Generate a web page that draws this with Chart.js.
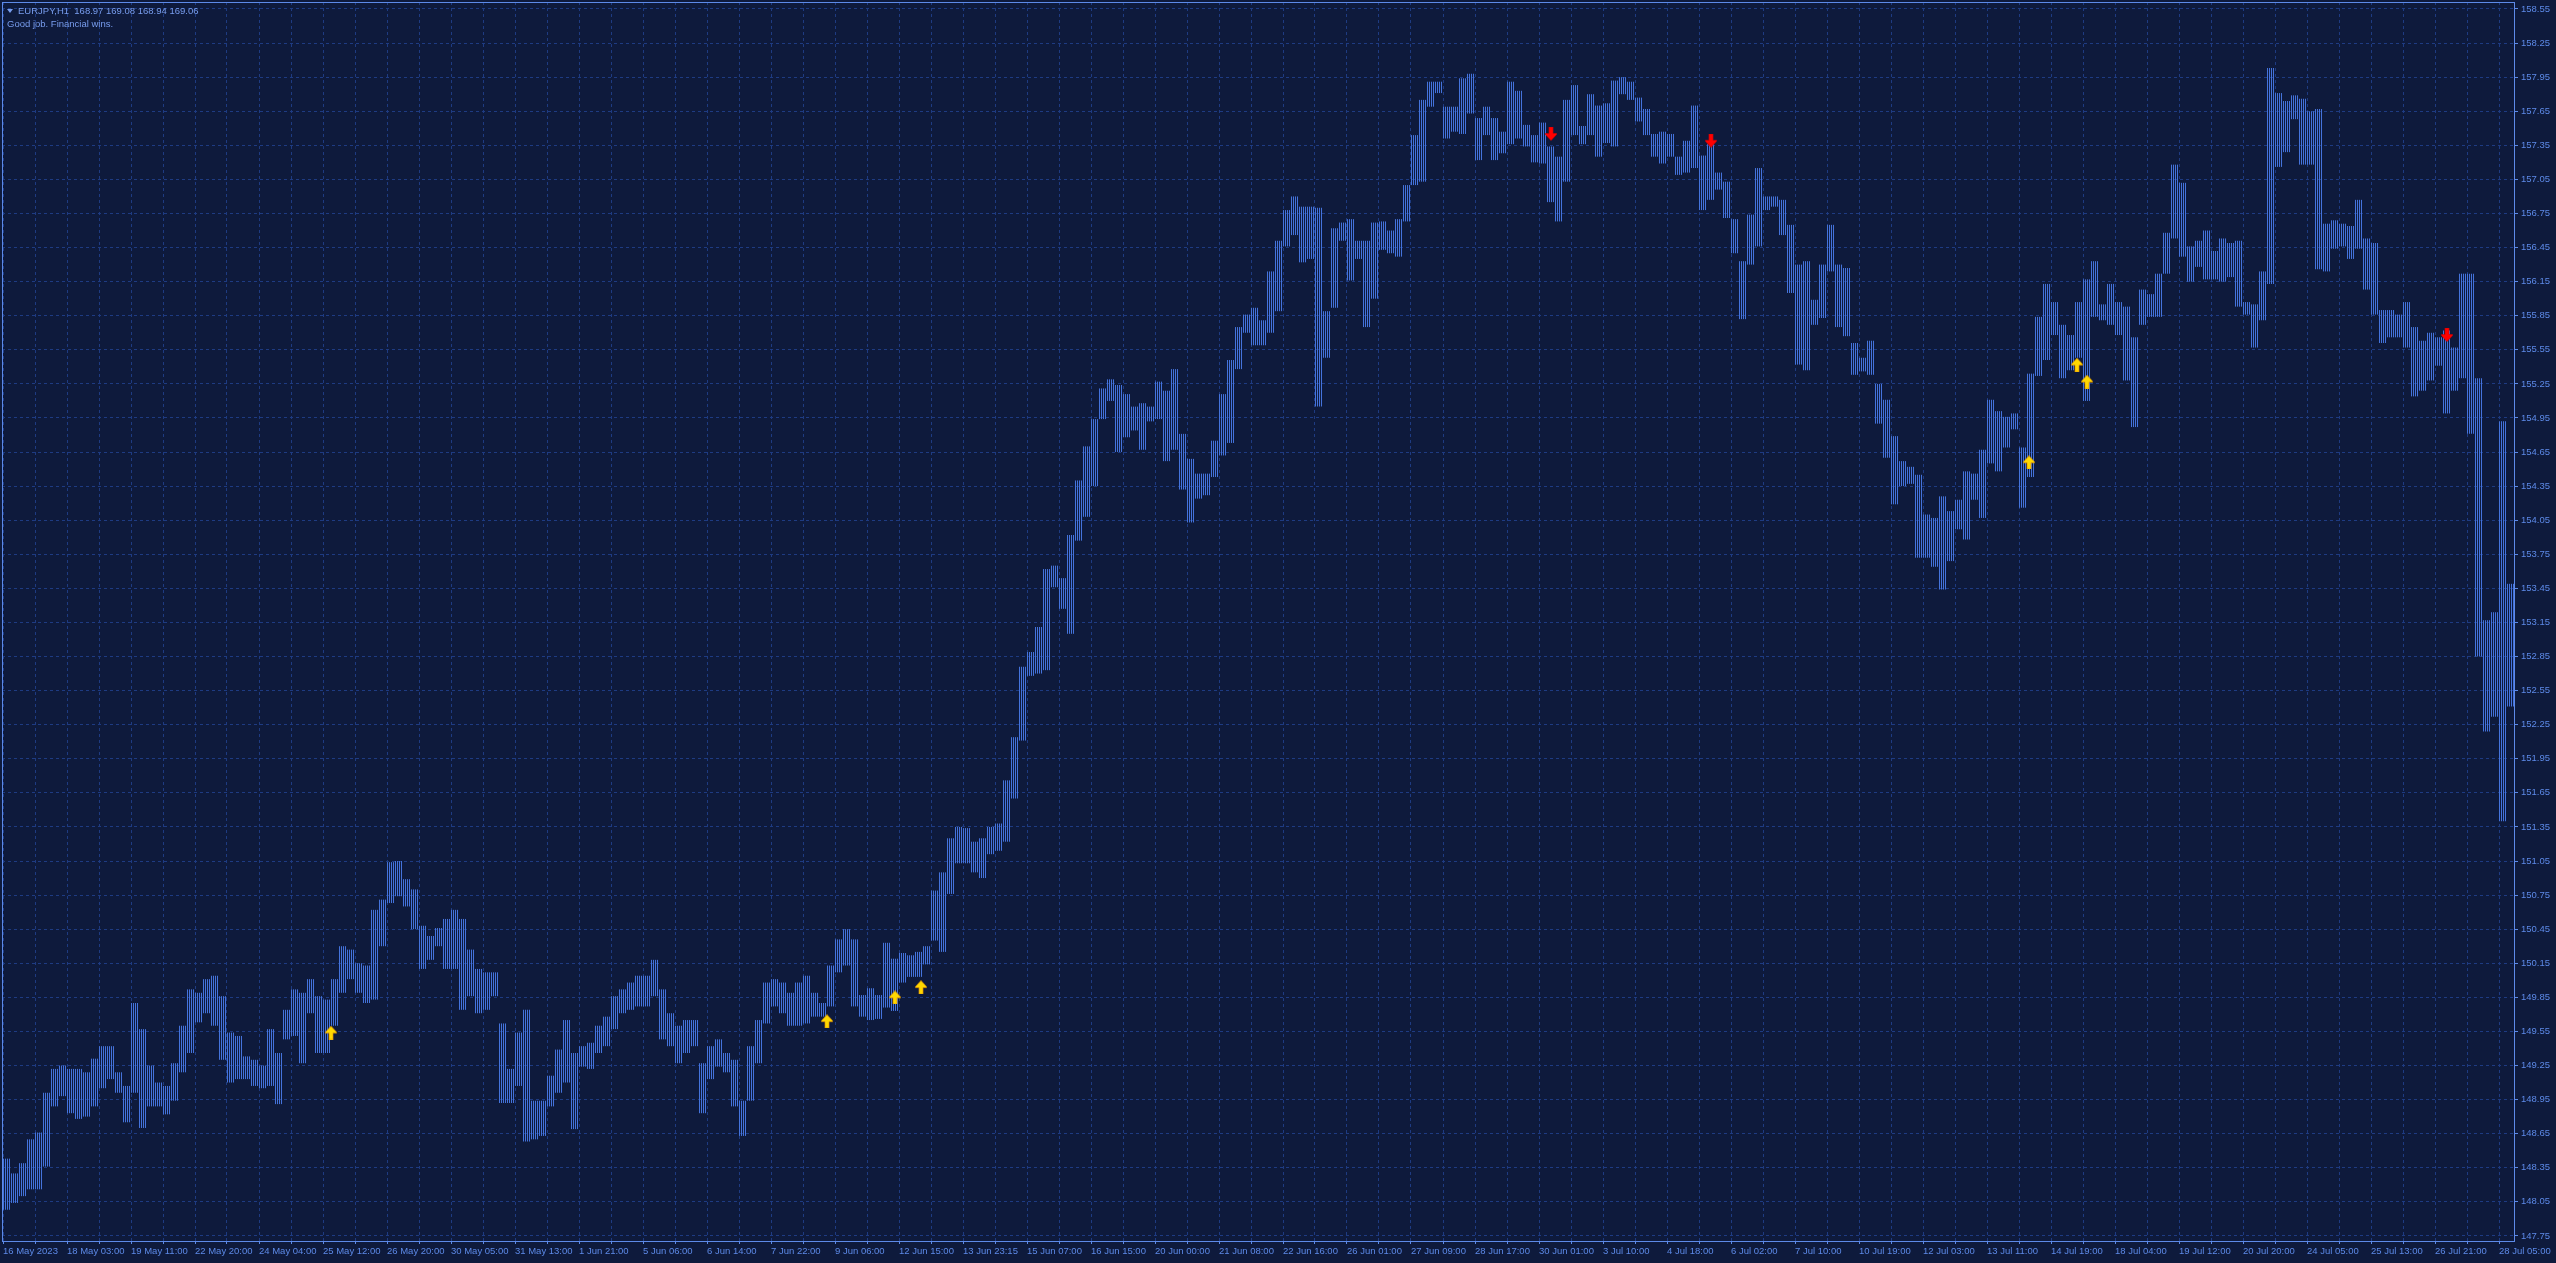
<!DOCTYPE html>
<html>
<head>
<meta charset="utf-8">
<title>EURJPY,H1</title>
<script src="https://cdn.jsdelivr.net/npm/chart.js@4.4.1/dist/chart.umd.min.js"></script>
<style>
  html, body { margin:0; padding:0; background:#0e1a3c; overflow:hidden; }
  #wrap { position:relative; width:2556px; height:1263px; }
  #chart { position:absolute; left:0; top:0; width:2556px; height:1263px; }
  #hdr { position:absolute; left:7px; top:4px; font-family:"Liberation Sans", Arial, sans-serif; font-size:9.5px; line-height:13px; color:#789dee; white-space:pre; }
  .tri { display:inline-block; width:0; height:0; border-left:3px solid transparent; border-right:3px solid transparent; border-top:4px solid #789dee; margin-right:5px; vertical-align:1px; }
</style>
</head>
<body>
<div id="wrap">
  <canvas id="chart" width="2556" height="1263"></canvas>
  <div id="hdr"><span class="tri"></span>EURJPY,H1  168.97 169.08 168.94 169.06
Good job. Financial wins.</div>
</div>
<script>
// ---- data: each entry = one 4-hour block of H1 bars (high / low) ----
const highs = [
148.43,148.30,148.39,148.60,148.66,149.01,149.22,149.25,149.22,149.22,
149.19,149.31,149.42,149.42,149.19,149.07,149.80,149.57,149.25,149.10,
149.07,149.27,149.60,149.92,149.89,150.01,150.04,149.86,149.54,149.51,
149.33,149.30,149.25,149.57,149.36,149.74,149.92,149.89,150.01,149.86,
149.83,150.01,150.30,150.27,150.15,150.13,150.62,150.71,151.04,151.05,
150.89,150.80,150.48,150.39,150.46,150.54,150.62,150.54,150.27,150.10,
150.07,150.07,149.62,149.22,149.54,149.74,148.94,148.94,149.16,149.39,
149.65,149.36,149.42,149.45,149.60,149.68,149.86,149.92,149.98,150.04,
150.04,150.18,149.92,149.71,149.60,149.65,149.65,149.27,149.42,149.48,
149.36,149.30,148.94,149.42,149.65,149.98,150.01,149.98,149.89,149.98,
150.04,149.89,149.80,150.13,150.36,150.45,150.36,149.87,149.93,149.87,
150.33,150.19,150.24,150.22,150.25,150.30,150.79,150.95,151.25,151.35,
151.34,151.22,151.25,151.35,151.38,151.76,152.14,152.76,152.89,153.11,
153.62,153.65,153.54,153.92,154.40,154.70,154.94,155.21,155.29,155.24,
155.16,155.05,155.08,155.05,155.27,155.19,155.38,154.81,154.59,154.46,
154.46,154.75,155.16,155.46,155.75,155.86,155.92,155.81,156.24,156.51,
156.78,156.90,156.81,156.81,156.80,155.89,156.62,156.67,156.70,156.51,
156.51,156.67,156.68,156.60,156.70,157.00,157.44,157.75,157.91,157.91,
157.69,157.69,157.94,157.98,157.59,157.69,157.59,157.47,157.91,157.83,
157.53,157.44,157.55,157.34,157.25,157.75,157.88,157.52,157.80,157.70,
157.72,157.92,157.95,157.91,157.77,157.67,157.45,157.47,157.45,157.25,
157.39,157.70,157.26,157.36,157.11,157.03,156.70,156.33,156.74,157.15,
156.90,156.90,156.87,156.65,156.30,156.33,155.99,156.30,156.65,156.30,
156.27,155.61,155.48,155.63,155.25,155.11,154.79,154.57,154.52,154.45,
154.10,154.07,154.26,154.13,154.23,154.48,154.46,154.67,155.11,155.01,
154.96,154.99,154.69,155.34,155.84,156.13,155.97,155.77,155.68,155.97,
156.17,156.33,155.95,156.13,155.97,155.93,155.66,156.08,156.04,156.22,
156.58,157.18,157.02,156.46,156.51,156.60,156.42,156.53,156.49,156.51,
155.97,155.95,156.24,158.03,157.81,157.74,157.79,157.76,157.65,157.67,
156.66,156.69,156.66,156.64,156.87,156.53,156.49,155.90,155.90,155.86,
155.97,155.75,155.63,155.70,155.66,155.72,155.57,156.22,156.22,155.30,
153.17,153.24,154.92,153.49
];
const lows = [
147.98,148.04,148.10,148.16,148.16,148.36,148.89,148.98,148.83,148.78,
148.80,148.89,149.05,149.13,149.01,148.75,149.01,148.70,148.89,148.89,
148.82,148.94,149.19,149.36,149.63,149.71,149.60,149.30,149.10,149.13,
149.13,149.07,149.05,149.07,148.91,149.48,149.51,149.27,149.71,149.36,
149.36,149.60,149.89,150.01,149.89,149.80,149.83,150.30,150.68,150.74,
150.65,150.45,150.10,150.18,150.30,150.10,150.10,149.74,149.86,149.71,
149.74,149.86,148.92,148.92,149.07,148.58,148.60,148.63,148.89,149.01,
149.10,148.69,149.24,149.22,149.36,149.42,149.57,149.71,149.74,149.77,
149.77,149.86,149.48,149.42,149.27,149.36,149.42,148.83,149.13,149.24,
149.19,148.89,148.63,148.94,149.27,149.62,149.77,149.71,149.60,149.60,
149.62,149.68,149.68,149.77,150.07,150.13,149.77,149.68,149.65,149.66,
149.76,149.73,149.98,150.03,150.03,150.14,150.35,150.25,150.76,151.03,
151.03,150.95,150.90,151.11,151.14,151.22,151.60,152.11,152.68,152.70,
152.73,153.46,153.27,153.05,153.87,154.08,154.35,154.94,155.10,154.65,
154.78,154.84,154.67,154.92,154.94,154.57,154.67,154.32,154.03,154.24,
154.27,154.43,154.62,154.73,155.38,155.70,155.59,155.59,155.70,155.89,
156.46,156.56,156.32,156.35,155.05,155.48,155.92,156.51,156.16,156.35,
155.75,156.00,156.43,156.40,156.37,156.68,157.00,157.03,157.69,157.81,
157.41,157.47,157.45,157.63,157.22,157.44,157.22,157.28,157.36,157.41,
157.34,157.20,157.19,156.85,156.68,157.03,157.44,157.36,157.44,157.25,
157.37,157.34,157.80,157.75,157.56,157.44,157.25,157.19,157.25,157.09,
157.11,157.15,156.78,156.87,156.96,156.71,156.40,155.82,156.30,156.46,
156.78,156.81,156.56,156.05,155.42,155.37,155.77,155.83,156.24,155.75,
155.67,155.33,155.36,155.33,154.90,154.60,154.19,154.35,154.37,153.72,
153.72,153.64,153.44,153.69,153.97,153.88,154.23,154.07,154.55,154.48,
154.69,154.85,154.16,154.43,155.32,155.46,155.68,155.30,155.37,155.48,
155.10,155.84,155.81,155.77,155.68,155.28,154.87,155.77,155.84,155.84,
156.22,156.53,156.37,156.15,156.28,156.17,156.17,156.15,156.19,155.93,
155.86,155.57,155.81,156.13,157.16,157.29,157.58,157.18,157.18,156.26,
156.24,156.44,156.46,156.35,156.44,156.08,155.86,155.61,155.66,155.66,
155.57,155.14,155.19,155.28,155.41,154.99,155.19,155.30,154.81,152.85,
152.19,152.32,151.40,152.41
];
const timeLabels = [
"16 May 2023","18 May 03:00","19 May 11:00","22 May 20:00","24 May 04:00","25 May 12:00",
"26 May 20:00","30 May 05:00","31 May 13:00","1 Jun 21:00","5 Jun 06:00","6 Jun 14:00",
"7 Jun 22:00","9 Jun 06:00","12 Jun 15:00","13 Jun 23:15","15 Jun 07:00","16 Jun 15:00",
"20 Jun 00:00","21 Jun 08:00","22 Jun 16:00","26 Jun 01:00","27 Jun 09:00","28 Jun 17:00",
"30 Jun 01:00","3 Jul 10:00","4 Jul 18:00","6 Jul 02:00","7 Jul 10:00","10 Jul 19:00",
"12 Jul 03:00","13 Jul 11:00","14 Jul 19:00","18 Jul 04:00","19 Jul 12:00","20 Jul 20:00",
"24 Jul 05:00","25 Jul 13:00","26 Jul 21:00","28 Jul 05:00"
];
const priceTicks = [
147.75,148.05,148.35,148.65,148.95,149.25,149.55,149.85,150.15,150.45,150.75,151.05,
151.35,151.65,151.95,152.25,152.55,152.85,153.15,153.45,153.75,154.05,154.35,154.65,
154.95,155.25,155.55,155.85,156.15,156.45,156.75,157.05,157.35,157.65,157.95,158.25,158.55
];
const upArrowBars    = [164, 412, 446, 459, 1013, 1037, 1042];
const upArrowPrices  = [149.54, 149.64, 149.85, 149.94, 154.56, 155.42, 155.27];
const downArrowBars   = [774, 854, 1222];
const downArrowPrices = [157.45, 157.39, 155.68];

const BARS_PER_BLOCK = 4;
const LABEL_EVERY = 32;
const GRID_EVERY = 16;

// ---- styles ----
const BAR = '#4473dc', GRID = '#1e3b82', AXIS = '#5d8ae8', FRAME = '#5d8ae8';
const FONT = { family: 'Liberation Sans', size: 9.5 };

const canvas = document.getElementById('chart');
const ctx = canvas.getContext('2d');

function barPattern() {
  const c = document.createElement('canvas'); c.width = 2; c.height = 1;
  const g = c.getContext('2d'); g.fillStyle = BAR; g.fillRect(1, 0, 1, 1);
  return ctx.createPattern(c, 'repeat');
}
function arrowImg(color, edge, up) {
  const c = document.createElement('canvas'); c.width = 12; c.height = 14;
  const g = c.getContext('2d');
  const pts = [[6,0.5],[11.5,6.5],[11.5,7.5],[8,7.5],[8,14],[4,14],[4,7.5],[0.5,7.5],[0.5,6.5]];
  g.beginPath();
  pts.forEach(([x, y], i) => { const yy = up ? y : 14 - y; i ? g.lineTo(x, yy) : g.moveTo(x, yy); });
  g.closePath();
  g.fillStyle = color; g.fill();
  g.lineWidth = 0.7; g.strokeStyle = edge; g.stroke();
  return c;
}

const gridBars = [];
for (let v = 0; v <= 1248; v += GRID_EVERY) gridBars.push(v);

const blockData = highs.map((h, i) => ({ x: i * BARS_PER_BLOCK + 1.5, y: [lows[i], h] }));

const framePlugin = {
  id: 'frame',
  afterDraw(chart) {
    const a = chart.chartArea, c = chart.ctx;
    c.save();
    c.strokeStyle = FRAME; c.lineWidth = 1;
    c.strokeRect(a.left + 0.5, a.top + 0.5, a.right - a.left, a.bottom - a.top);
    c.restore();
  }
};

new Chart(ctx, {
  type: 'bar',
  data: {
    datasets: [
      { type: 'bar', data: blockData, backgroundColor: barPattern(), borderWidth: 0,
        barThickness: 8, inflateAmount: 0, grouped: false, order: 2 },
      { type: 'scatter', data: upArrowBars.map((b, i) => ({ x: b, y: upArrowPrices[i] })),
        pointStyle: arrowImg('#ffd800', '#e09000', true), pointRadius: 7, clip: false, order: 0 },
      { type: 'scatter', data: downArrowBars.map((b, i) => ({ x: b, y: downArrowPrices[i] })),
        pointStyle: arrowImg('#ff0000', '#d00000', false), pointRadius: 7, clip: false, order: 0 }
    ]
  },
  options: {
    responsive: false,
    devicePixelRatio: 1,
    animation: false,
    events: [],
    layout: { autoPadding: false, padding: { left: 2, top: 2, right: 0, bottom: 0 } },
    plugins: { legend: { display: false }, tooltip: { enabled: false } },
    scales: {
      x: {
        type: 'linear', position: 'bottom', min: -0.5, max: 1255.5, bounds: 'data', offset: false,
        afterBuildTicks: s => { s.ticks = gridBars.map(v => ({ value: v })); },
        afterFit: s => { s.height = 22; s.paddingLeft = 0; s.paddingRight = 0; },
        ticks: { autoSkip: false, maxRotation: 0, minRotation: 0, align: 'start', padding: 2,
                 color: AXIS, font: FONT,
                 callback: v => (v % LABEL_EVERY === 0 ? timeLabels[v / LABEL_EVERY] : '') },
        grid: { offset: false, color: GRID, lineWidth: 1, drawTicks: true, tickLength: 3, tickColor: FRAME, tickBorderDash: [] },
        border: { display: false, dash: [3, 3] }
      },
      y: {
        type: 'linear', position: 'right', min: 147.705, max: 158.6116, bounds: 'data', offset: false,
        afterBuildTicks: s => { s.ticks = priceTicks.map(v => ({ value: v })); },
        afterFit: s => { s.width = 42; s.paddingTop = 0; s.paddingBottom = 0; },
        ticks: { autoSkip: false, padding: 3, color: AXIS, font: FONT, callback: v => Number(v).toFixed(2) },
        grid: { offset: false, color: GRID, lineWidth: 1, drawTicks: true, tickLength: 4, tickColor: FRAME, tickBorderDash: [] },
        border: { display: false, dash: [3, 3] }
      }
    }
  },
  plugins: [framePlugin]
});
</script>
</body>
</html>
